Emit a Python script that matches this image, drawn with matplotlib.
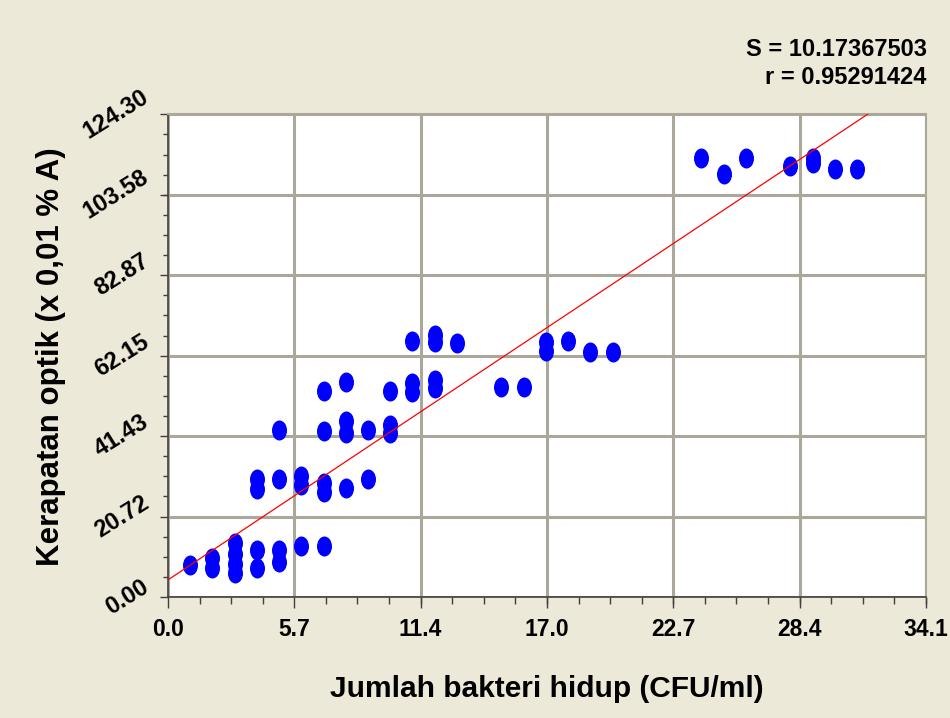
import numpy as np
import matplotlib.pyplot as plt
from matplotlib.path import Path
from matplotlib.transforms import Affine2D
from matplotlib.ticker import AutoMinorLocator

# viable bacteria count vs optical density
bacteria = [1, 2, 2, 3, 3, 3, 3, 4, 4, 5, 5, 6, 7,
            4, 4, 5, 6, 6, 7, 7, 8, 9,
            5, 7, 7, 8, 8, 8, 9, 10, 10, 10, 11, 11,
            11, 12, 12, 12, 12, 13, 15, 16, 17, 17, 18, 19, 20,
            24, 25, 26, 28, 29, 29, 30, 31]
density = [8.2, 10.0, 7.6, 14.0, 11.2, 8.6, 6.1, 12.1, 7.6, 12.1, 9.1, 13.1, 13.1,
           30.3, 27.8, 30.3, 31.2, 28.8, 29.3, 27.1, 28.0, 30.3,
           43.0, 53.0, 42.8, 55.3, 45.4, 42.3, 43.0, 53.0, 44.3, 42.2, 55.2, 52.9,
           66.0, 67.5, 65.7, 55.9, 53.7, 65.3, 54.0, 54.0, 65.6, 63.4, 66.0, 63.0, 63.0,
           113.0, 108.9, 113.0, 111.0, 113.0, 111.7, 110.1, 110.1]

fit_intercept = 4.4
fit_slope = 3.81

x_ticks = [0.0, 5.683, 11.367, 17.05, 22.733, 28.417, 34.1]
x_tick_labels = ["0.0", "5.7", "11.4", "17.0", "22.7", "28.4", "34.1"]
y_ticks = [0.0, 20.717, 41.433, 62.15, 82.867, 103.583, 124.3]
y_tick_labels = ["0.00", "20.72", "41.43", "62.15", "82.87", "103.58", "124.30"]

stats_lines = ["S = 10.17367503", "r = 0.95291424"]
x_title = "Jumlah bakteri hidup (CFU/ml)"
y_title = "Kerapatan optik (x 0,01 % A)"

plt.rcParams["font.family"] = ["Liberation Sans", "DejaVu Sans"]
plt.rcParams["font.weight"] = "bold"

fig = plt.figure(figsize=(9.5, 7.18), dpi=100, facecolor="#ECE9D8")
ax = fig.add_axes([0.1768, 0.1685, 0.7979, 0.6723])
ax.set_facecolor("white")

# tall oval marker
oval = Affine2D().scale(0.75, 1.0).transform_path(Path.unit_circle())
ax.plot(bacteria, density, linestyle="none", marker=oval, markersize=14.4,
        color="#0000FF", markeredgewidth=0, zorder=3)

xs = np.array([0.0, 34.1])
ax.plot(xs, fit_intercept + fit_slope * xs, color="#FF0000", lw=0.9, zorder=4)

ax.set_xlim(0, 34.1)
ax.set_ylim(0, 124.3)
ax.set_xticks(x_ticks)
ax.set_xticklabels(x_tick_labels, fontsize=16.5, fontweight="bold")
ax.set_yticks(y_ticks)
ax.set_yticklabels(y_tick_labels, fontsize=17, fontweight="bold")
plt.setp(ax.get_yticklabels(), rotation=32, ha="right", va="center")
ax.xaxis.set_minor_locator(AutoMinorLocator(4))
ax.yaxis.set_minor_locator(AutoMinorLocator(4))

ax.grid(which="major", color="#ACA899", linewidth=2.2)
ax.set_axisbelow(True)

for side in ["left", "bottom"]:
    ax.spines[side].set_color("#404040")
    ax.spines[side].set_linewidth(1.2)
for side in ["top", "right"]:
    ax.spines[side].set_color("#ACA899")
    ax.spines[side].set_linewidth(1.5)

ax.tick_params(axis="x", which="major", length=8, width=1, color="#404040", pad=7)
ax.tick_params(axis="x", which="minor", length=5, width=1, color="#404040")
ax.tick_params(axis="y", which="major", length=6, width=1, color="#404040", pad=5)
ax.tick_params(axis="y", which="minor", length=3.5, width=1, color="#404040")

fig.text(0.5758, 0.0292, x_title, fontsize=21.5, fontweight="bold",
         ha="center", va="baseline")
fig.text(0.0537, 0.5028, y_title, fontsize=22.5, fontweight="bold",
         rotation=90, ha="center", va="center")

fig.text(0.9754, 0.922, stats_lines[0], fontsize=17, fontweight="bold",
         ha="right", va="baseline")
fig.text(0.9754, 0.883, stats_lines[1], fontsize=17, fontweight="bold",
         ha="right", va="baseline")

fig.savefig("out.png", dpi=100, facecolor=fig.get_facecolor())
